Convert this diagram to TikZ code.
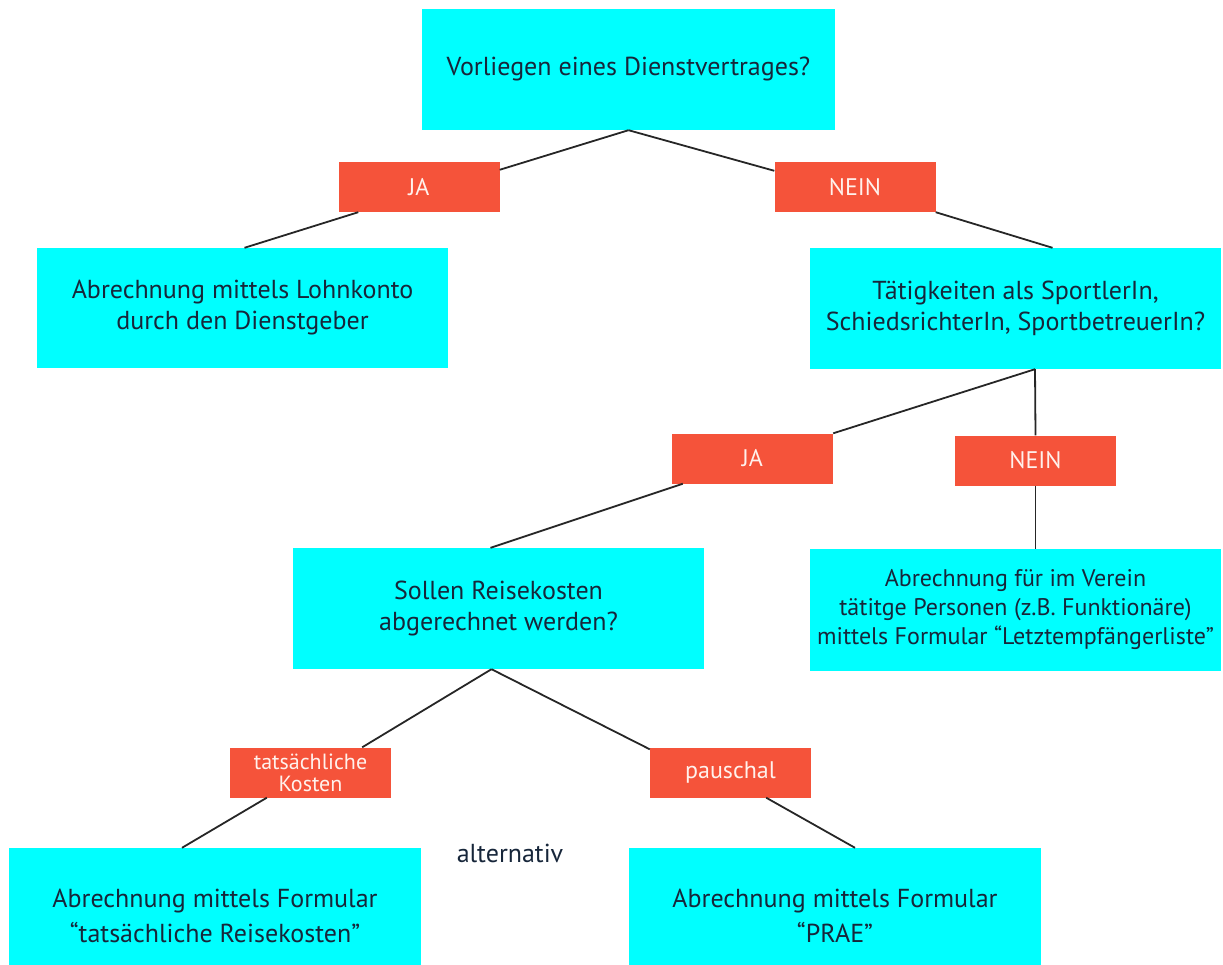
\documentclass[tikz,border=0pt]{standalone}
\usepackage{fontspec}
\setmainfont{PT Sans}
\definecolor{boxcyan}{HTML}{00FFFF}
\definecolor{labred}{HTML}{F5533A}
\definecolor{txt}{HTML}{17263A}
\definecolor{labtxt}{HTML}{FFF1EC}
\tikzset{
  cbox/.style={fill=boxcyan, draw=none, text=txt, align=center, inner sep=0pt,
    font=\fontsize{26}{31}\selectfont},
  lab/.style={fill=labred, draw=none, text=labtxt, align=center, inner sep=0pt,
    minimum width=161pt, minimum height=50pt, font=\fontsize{24}{22}\selectfont},
  conn/.style={draw=black!85, line width=1.8pt}
}
\begin{document}
\begin{tikzpicture}[x=1pt,y=-1pt]
\useasboundingbox (0,0) rectangle (1223,965);
% boxes
\node[cbox, minimum width=413pt, minimum height=121pt] (top) at (628.5,69.5) {Vorliegen eines Dienstvertrages?};
\node[cbox, minimum width=411pt, minimum height=120pt] (left) at (242.5,308) {Abrechnung mittels Lohnkonto\\durch den Dienstgeber};
\node[cbox, minimum width=411pt, minimum height=121pt] (right) at (1015.5,308.5) {Tätigkeiten als SportlerIn,\\SchiedsrichterIn, SportbetreuerIn?};
\node[cbox, minimum width=411pt, minimum height=121pt] (mid) at (498.5,608.5) {Sollen Reisekosten\\abgerechnet werden?};
\node[cbox, minimum width=411pt, minimum height=122pt, font=\fontsize{24}{29}\selectfont] (right2) at (1015.5,610) {Abrechnung für im Verein\\tätitge Personen (z.B. Funktionäre)\\mittels Formular “Letztempfängerliste”};
\node[cbox, minimum width=412pt, minimum height=135pt, font=\fontsize{26}{35}\selectfont] (bl) at (215,915.5) {Abrechnung mittels Formular\\“tatsächliche Reisekosten”};
\node[cbox, minimum width=412pt, minimum height=135pt, font=\fontsize{26}{35}\selectfont] (br) at (835,915.5) {Abrechnung mittels Formular\\“PRAE”};
% labels
\node[lab] (ja1) at (419,187) {JA};
\node[lab] (nein1) at (855,187) {NEIN};
\node[lab] (ja2) at (752.5,458.5) {JA};
\node[lab] (nein2) at (1035.5,460.5) {NEIN};
\node[lab, font=\fontsize{22}{22}\selectfont] (tats) at (310.5,772.5) {tatsächliche\\Kosten};
\node[lab] (paus) at (730.5,772.5) {pauschal};
\node[text=txt, font=\fontsize{26}{28}\selectfont, inner sep=0pt] (alt) at (510,853) {alternativ};
% connectors
\draw[conn] (top.south) -- ([yshift=-8pt]ja1.north east);
\draw[conn] (top.south) -- ([yshift=-9pt]nein1.north west);
\draw[conn] ([xshift=20pt]ja1.south west) -- ([xshift=2pt]left.north);
\draw[conn] (nein1.south east) -- ([xshift=37pt]right.north);
\draw[conn] ([xshift=19.5pt]right.south) -- (ja2.north east);
\draw[conn] ([xshift=19.5pt]right.south) -- (nein2.north);
\draw[conn] (nein2.south) -- (nein2.south |- right2.north);
\draw[conn] ([xshift=11pt]ja2.south west) -- ([xshift=-8pt]mid.north);
\draw[conn] ([xshift=-7pt]mid.south) -- ([xshift=-29pt]tats.north east);
\draw[conn] ([xshift=-7pt]mid.south) -- ([yshift=-2pt]paus.north west);
\draw[conn] ([xshift=37pt]tats.south west) -- ([xshift=-33pt]bl.north);
\draw[conn] ([xshift=-45pt]paus.south east) -- ([xshift=20pt]br.north);
\end{tikzpicture}
\end{document}
